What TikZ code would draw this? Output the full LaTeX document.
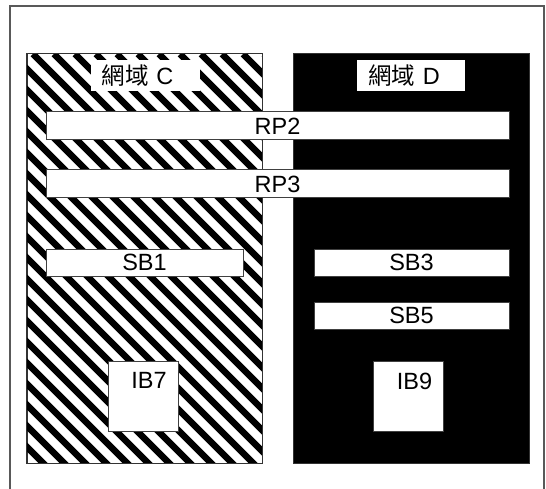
\documentclass[tikz,border=0pt]{standalone}
\usepackage{fontspec}
\setmainfont{Liberation Sans}
\newfontfamily\cjk{Noto Sans CJK TC}
\usepackage{tikz}

\tikzset{
	dombox/.style={rectangle,draw=black!80,line width=1pt,inner sep=0pt},
	tagbox/.style={rectangle,fill=white,inner xsep=11pt,inner ysep=0pt,text width=87pt,align=left,minimum height=31pt},
	bar/.style={rectangle,draw=black!75,fill=white,line width=1pt,inner sep=0pt,minimum height=28pt},
	ibox/.style={rectangle,draw=black!75,fill=white,line width=1pt,inner sep=0pt,minimum width=70pt,minimum height=70pt},
}

\begin{document}
\begin{tikzpicture}[x=1pt,y=-1pt,font=\fontsize{23.5}{27}\selectfont]
			\useasboundingbox (0,0) rectangle (546,489);
			
			% frame
			\draw[black!65,line width=1.8pt] (10,489) -- (10,6) -- (544,6) -- (544,489);
			
			% domains
			\node[dombox,fill=white,minimum width=235pt,minimum height=409pt] (domC) at (144.5,258.5) {};
			\node[dombox,fill=black,minimum width=236pt,minimum height=409pt] (domD) at (411,258.5) {};
			\begin{scope}
				\clip (domC.north west) rectangle (domC.south east);
				\foreach \s in {-420,-399,...,252} {
					\draw[line width=6.5pt] (33+\s,54) -- ++(440,440);
				}
			\end{scope}
			\draw[black!80,line width=1pt] (domC.north west) rectangle (domC.south east);
			
			\node[tagbox] (tagC) at (145,75.5) {{\cjk 網域} C};
			\node[tagbox,text width=86pt] (tagD) at (411,76) {{\cjk 網域} D};
			
			% RP / SB
			\node[bar,minimum width=463pt] (RP2) at (277.5,126) {RP2};
			\node[bar,minimum width=463pt] (RP3) at (277.5,184) {RP3};
			\node[bar,minimum width=197pt,minimum height=27pt] (SB1) at (144.5,262.5) {SB1};
			\node[bar,minimum width=195pt,minimum height=27pt] (SB3) at (411.5,262.5) {SB3};
			\node[bar,minimum width=195pt,minimum height=27pt] (SB5) at (411.5,315.5) {SB5};
			
			% IB
			\node[ibox,label={[anchor=north,inner sep=0pt,yshift=-12pt,xshift=6pt]north:IB7}] (IB7) at (143,396) {};
			\node[ibox,label={[anchor=north,inner sep=0pt,yshift=-12pt,xshift=6pt]north:IB9}] (IB9) at (408.5,396) {};
			
		\end{tikzpicture}
\end{document}
